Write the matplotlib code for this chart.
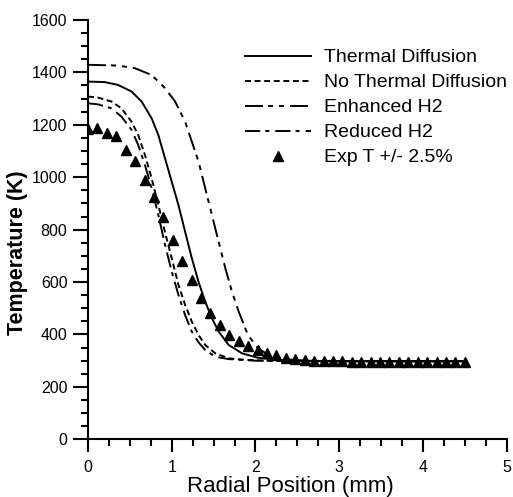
import numpy as np
import matplotlib
matplotlib.use("Agg")
import matplotlib.pyplot as plt
from matplotlib.ticker import MultipleLocator

plt.rcParams['font.family'] = ['Liberation Sans', 'DejaVu Sans']
plt.rcParams['lines.scale_dashes'] = False

# Experimental points (Exp T +/- 2.5%)
x_exp = [0.0, 0.1125, 0.225, 0.3375, 0.45, 0.5625, 0.675, 0.7875, 0.9, 1.0125,
         1.125, 1.2375, 1.35, 1.4625, 1.575, 1.6875, 1.8, 1.9125, 2.025, 2.1375,
         2.25, 2.3625, 2.475, 2.5875, 2.7, 2.8125, 2.925, 3.0375, 3.15, 3.2625,
         3.375, 3.4875, 3.6, 3.7125, 3.825, 3.9375, 4.05, 4.1625, 4.275, 4.3875, 4.5]
t_exp = [1184, 1186, 1170, 1157, 1103, 1063, 989, 923, 849, 760,
         680, 607, 540, 482, 435, 397, 375, 356, 340, 330,
         320, 312, 307, 303, 300, 298, 297, 297, 296, 296,
         296, 295, 296, 295, 295, 295, 296, 295, 295, 295, 296]

# Thermal Diffusion (solid)
x_td = [0.0, 0.2, 0.36, 0.52, 0.64, 0.76, 0.84, 0.92, 1.0, 1.08, 1.16, 1.24,
        1.32, 1.40, 1.48, 1.56, 1.68, 1.84, 2.03, 2.27, 2.6, 3.0, 4.5]
t_td = [1365, 1363, 1352, 1327, 1289, 1225, 1161, 1072, 983, 894, 792, 691,
        601, 525, 462, 411, 360, 328, 311, 303, 299, 298, 298]

# No Thermal Diffusion (dashed)
x_ntd = [0.0, 0.12, 0.28, 0.40, 0.52, 0.60, 0.68, 0.76, 0.84, 0.92, 1.00,
         1.08, 1.16, 1.24, 1.32, 1.40, 1.52, 1.68, 1.88, 2.2, 3.0, 4.5]
t_ntd = [1308, 1304, 1289, 1263, 1212, 1161, 1085, 996, 895, 790, 691,
         589, 513, 449, 398, 360, 328, 309, 303, 299, 298, 298]

# Enhanced H2
x_enh = [0.0, 0.36, 0.56, 0.76, 0.92, 1.04, 1.16, 1.24, 1.32, 1.40, 1.48,
         1.56, 1.64, 1.72, 1.80, 1.91, 2.03, 2.19, 2.35, 2.6, 3.0, 4.5]
t_enh = [1429, 1426, 1416, 1390, 1340, 1289, 1212, 1136, 1060, 958, 856,
         754, 653, 563, 487, 398, 347, 315, 306, 300, 298, 298]

# Reduced H2
x_red = [0.0, 0.12, 0.28, 0.40, 0.52, 0.60, 0.68, 0.76, 0.84, 0.92, 1.00,
         1.08, 1.16, 1.24, 1.32, 1.40, 1.52, 1.68, 2.0, 3.0, 4.5]
t_red = [1282, 1278, 1263, 1231, 1181, 1123, 1047, 958, 856, 742, 640,
         551, 474, 411, 370, 341, 315, 306, 300, 298, 298]

fig = plt.figure(figsize=(5.13, 4.97), dpi=100)
ax = fig.add_axes([0.1715, 0.1161, 0.8162, 0.8437])

lw = 1.4
ax.plot(x_td, t_td, color='black', lw=lw, label='Thermal Diffusion')
ax.plot(x_ntd, t_ntd, color='black', lw=lw, linestyle=(0, (4.3, 2.6)),
        label='No Thermal Diffusion')
ax.plot(x_enh, t_enh, color='black', lw=lw,
        linestyle=(0, (13, 3.6, 3.6, 4.3, 3.6, 4.3)), label='Enhanced H2')
ax.plot(x_red, t_red, color='black', lw=lw,
        linestyle=(0, (11, 3.6, 2.9, 4.3)), label='Reduced H2')
ax.plot(x_exp, t_exp, linestyle='none', marker='^', color='black',
        markersize=6.5, label='Exp T +/- 2.5%')

ax.set_xlim(0, 5)
ax.set_ylim(0, 1600)
ax.xaxis.set_major_locator(MultipleLocator(1))
ax.xaxis.set_minor_locator(MultipleLocator(0.25))
ax.yaxis.set_major_locator(MultipleLocator(200))
ax.yaxis.set_minor_locator(MultipleLocator(50))

for side in ['top', 'right']:
    ax.spines[side].set_visible(False)
for side in ['left', 'bottom']:
    ax.spines[side].set_linewidth(1.5)

ax.tick_params(axis='x', which='major', direction='out', length=9.7, width=1.5,
               labelsize=11.5, pad=5)
ax.tick_params(axis='x', which='minor', direction='out', length=5, width=1.5)
ax.tick_params(axis='y', which='major', direction='out', length=10.8, width=1.5,
               labelsize=11.5, pad=4)
ax.tick_params(axis='y', which='minor', direction='out', length=5, width=1.5)

ax.set_xlabel('Radial Position (mm)', fontsize=16)
ax.xaxis.set_label_coords(0.484, -0.088)
ax.set_ylabel('Temperature (K)', fontsize=15.5, fontweight='bold')
ax.yaxis.set_label_coords(-0.143, 0.446)

ax.legend(loc='upper left', bbox_to_anchor=(0.4776, 0.902),
          bbox_transform=fig.transFigure, frameon=False, fontsize=14,
          handlelength=3.4, handletextpad=0.65, labelspacing=0.38,
          borderpad=0, borderaxespad=0, numpoints=1)

fig.savefig('out.png', dpi=100)
